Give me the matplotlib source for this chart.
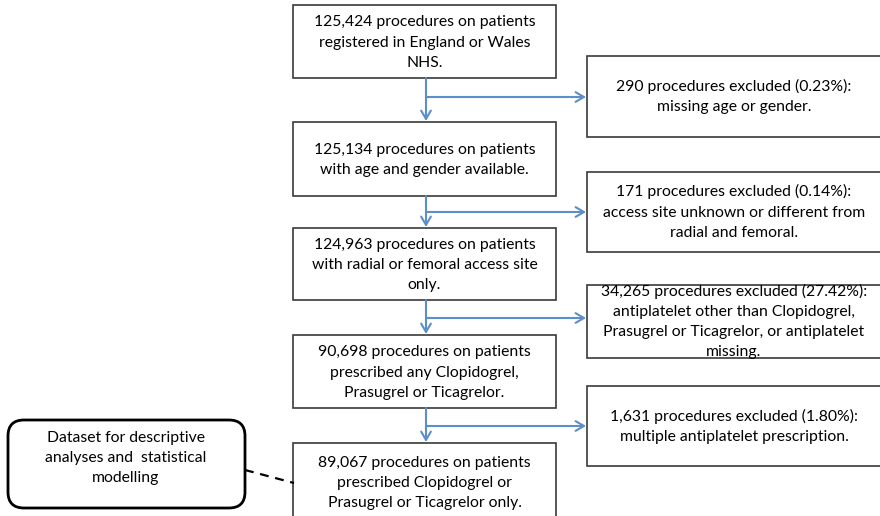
import matplotlib.pyplot as plt
from matplotlib.patches import Rectangle, FancyBboxPatch

main_steps = [
    "125,424 procedures on patients\nregistered in England or Wales\nNHS.",
    "125,134 procedures on patients\nwith age and gender available.",
    "124,963 procedures on patients\nwith radial or femoral access site\nonly.",
    "90,698 procedures on patients\nprescribed any Clopidogrel,\nPrasugrel or Ticagrelor.",
    "89,067 procedures on patients\nprescribed Clopidogrel or\nPrasugrel or Ticagrelor only.",
]
excluded = [
    "290 procedures excluded (0.23%):\nmissing age or gender.",
    "171 procedures excluded (0.14%):\naccess site unknown or different from\nradial and femoral.",
    "34,265 procedures excluded (27.42%):\nantiplatelet other than Clopidogrel,\nPrasugrel or Ticagrelor, or antiplatelet\nmissing.",
    "1,631 procedures excluded (1.80%):\nmultiple antiplatelet prescription.",
]
dataset_label = "Dataset for descriptive\nanalyses and  statistical\nmodelling"

# layout in pixel coordinates (y downwards)
main_y = [(5, 78), (122, 196), (228, 300), (335, 408), (443, 530)]
excl_y = [(56, 137), (172, 252), (285, 358), (386, 466)]
arrow_y = [97, 212, 318, 426]
mx0, mx1 = 293, 556
ex0, ex1 = 587, 884
cx = 426

plt.rcParams['font.family'] = ['Lato', 'DejaVu Sans']
fig = plt.figure(figsize=(8.8, 5.16), dpi=100)
ax = fig.add_axes([0, 0, 1, 1])
ax.set_xlim(0, 880)
ax.set_ylim(516, 0)
ax.axis('off')

box_kw = dict(facecolor='white', edgecolor='#3a3a3a', lw=1.2)
txt_kw = dict(ha='center', va='center', fontsize=11.3, linespacing=1.55, color='black')
blue = '#5b8fc9'

for (y0, y1), label in zip(main_y, main_steps):
    ax.add_patch(Rectangle((mx0, y0), mx1 - mx0, y1 - y0, **box_kw))
    yc = (y0 + y1) / 2 if y1 <= 516 else 482
    ax.text((mx0 + mx1) / 2, yc + 1, label, **txt_kw)

for (y0, y1), label in zip(excl_y, excluded):
    ax.add_patch(Rectangle((ex0, y0), ex1 - ex0, y1 - y0, **box_kw))
    ax.text(734, (y0 + y1) / 2, label, **txt_kw)

arrow = dict(arrowstyle='->,head_length=0.6,head_width=0.35', color=blue, lw=1.5,
             shrinkA=0, shrinkB=0)
for i, ya in enumerate(arrow_y):
    top = main_y[i][1]
    bottom = main_y[i + 1][0]
    ax.annotate('', xy=(cx, bottom - 1), xytext=(cx, top), arrowprops=arrow)
    ax.annotate('', xy=(ex0 - 1, ya), xytext=(cx, ya), arrowprops=arrow)

ax.add_patch(FancyBboxPatch((8, 420), 237, 88, boxstyle='round,pad=0,rounding_size=16',
                            facecolor='white', edgecolor='black', lw=2))
ax.text(126, 458, dataset_label, **txt_kw)
ax.plot([245, 294], [470, 483], color='black', lw=1.6, ls=(0, (4, 3)))

fig.savefig('out.png', dpi=100)
